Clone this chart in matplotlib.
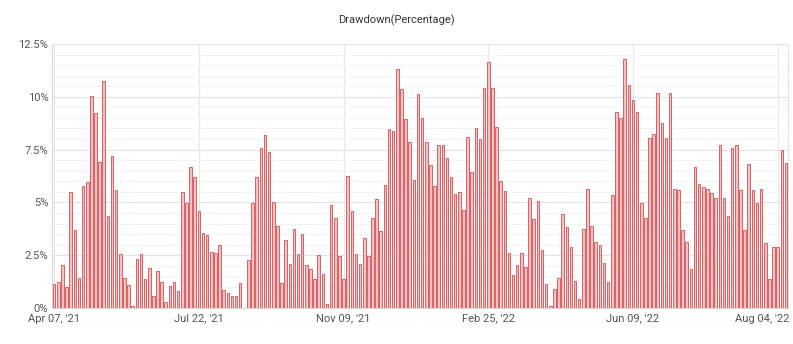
import matplotlib
matplotlib.use("Agg")
import matplotlib.pyplot as plt
import matplotlib.transforms as mtransforms
import numpy as np
from matplotlib.ticker import MultipleLocator, FixedLocator

plt.rcParams['font.family'] = ['Roboto', 'DejaVu Sans']

# Drawdown per period, in percent
drawdown = [
    1.14, 1.25, 2.02, 0.98, 5.47, 3.67, 1.40, 5.76, 5.98, 10.05, 9.23, 6.89, 10.74, 4.34, 7.19, 5.61, 2.54, 1.40, 1.07, 0.10, 2.33,
    2.54, 1.36, 1.89, 0.57, 1.73, 1.21, 0.27, 1.03, 1.21, 0.79, 5.47, 4.95, 6.67, 6.18, 4.59, 3.53, 3.44, 2.65, 2.59, 2.97, 0.87, 0.71, 0.58, 0.58, 1.17, 0.0, 2.27,
    4.95, 6.20, 7.56, 8.17, 7.40, 5.00, 3.86, 1.17, 3.20, 2.08, 3.72, 2.54, 3.49, 2.02, 1.83, 1.36, 2.49, 1.59, 0.19, 4.87, 4.24, 2.46, 1.36, 6.25, 4.59, 2.54, 2.07,
    3.30, 2.48, 4.24, 5.14, 3.63, 5.82, 8.47, 8.36, 11.34, 10.35, 8.94, 7.84, 6.07, 10.11, 9.02, 7.84, 6.75, 5.80, 7.70, 7.70, 7.08, 6.20, 5.38, 5.47, 4.64, 8.08,
    6.42, 8.52, 8.00, 10.44, 11.66, 10.44, 8.55, 5.99, 5.52, 2.59, 1.55, 2.02, 2.59, 1.92, 5.19, 4.20, 5.05, 2.74, 1.12, 0.09, 0.88, 1.40, 4.43, 3.82, 2.87, 1.26, 0.41,
    3.72, 5.65, 3.86, 3.11, 2.97, 2.11, 1.21, 5.35, 9.26, 9.01, 11.81, 10.58, 9.83, 9.26, 4.95, 4.27, 8.03, 8.26, 10.16, 8.74, 8.03, 10.16, 5.62, 5.57, 3.68, 3.11, 1.83,
    6.67, 5.85, 5.74, 5.62, 5.43, 5.22, 7.70, 5.22, 4.37, 7.60, 7.70, 5.57, 3.68, 6.80, 5.57, 4.95, 5.65, 3.06, 1.36, 2.89, 2.89, 7.48, 6.88,
]

# Category labels shown on the x axis and the bars they sit under
tick_index = [0, 35, 70, 105, 140, 175]
tick_labels = ["Apr 07, '21", "Jul 22, '21", "Nov 09, '21", "Feb 25, '22", "Jun 09, '22", "Aug 04, '22"]

y_ticks = [0, 2.5, 5, 7.5, 10, 12.5]
y_labels = ["0%", "2.5%", "5%", "7.5%", "10%", "12.5%"]

fig = plt.figure(figsize=(7.93, 3.44), dpi=100)
ax = fig.add_axes([0.0662, 0.1047, 0.9275, 0.7673])

x = np.arange(len(drawdown))
ax.bar(x, drawdown, width=0.62, color='#f3c2c2', edgecolor='#d66266',
       linewidth=0.7, zorder=3)

ax.set_xlim(-0.4, len(drawdown) - 0.5)
ax.set_ylim(0, 12.5)

ax.yaxis.set_major_locator(FixedLocator(y_ticks))
ax.set_yticklabels(y_labels)
ax.yaxis.set_minor_locator(MultipleLocator(0.5))
ax.set_xticks(tick_index)
ax.set_xticklabels(tick_labels)

ax.grid(axis='y', which='major', color='#e3e3e3', linewidth=0.8, zorder=0)
ax.grid(axis='y', which='minor', color='#f3f3f3', linewidth=0.7, zorder=0)
ax.grid(axis='x', which='major', color='#e6e6e6', linewidth=0.8, zorder=0)

ax.spines['top'].set_visible(False)
ax.spines['right'].set_color('#dddddd')
ax.spines['right'].set_linestyle((0, (1.5, 1.5)))
ax.spines['right'].set_linewidth(0.8)
ax.spines['left'].set_color('#d8d8d8')
ax.spines['bottom'].set_color('#d8d8d8')
ax.spines['left'].set_linewidth(0.8)
ax.spines['bottom'].set_linewidth(0.8)

ax.tick_params(axis='both', which='both', length=0, labelsize=8, colors='#555555', pad=4)
ax.tick_params(axis='y', pad=3)

# Keep the last date label inside the figure: right-align it just past its tick
last = ax.get_xticklabels()[-1]
last.set_ha('right')
last.set_transform(last.get_transform() +
                   mtransforms.ScaledTranslation(12 / 100, 0, fig.dpi_scale_trans))

fig.text(0.5, 0.94, "Drawdown(Percentage)", ha='center', va='center',
         fontsize=8, color='#333333')

fig.savefig("out.png", dpi=100, facecolor='white')
